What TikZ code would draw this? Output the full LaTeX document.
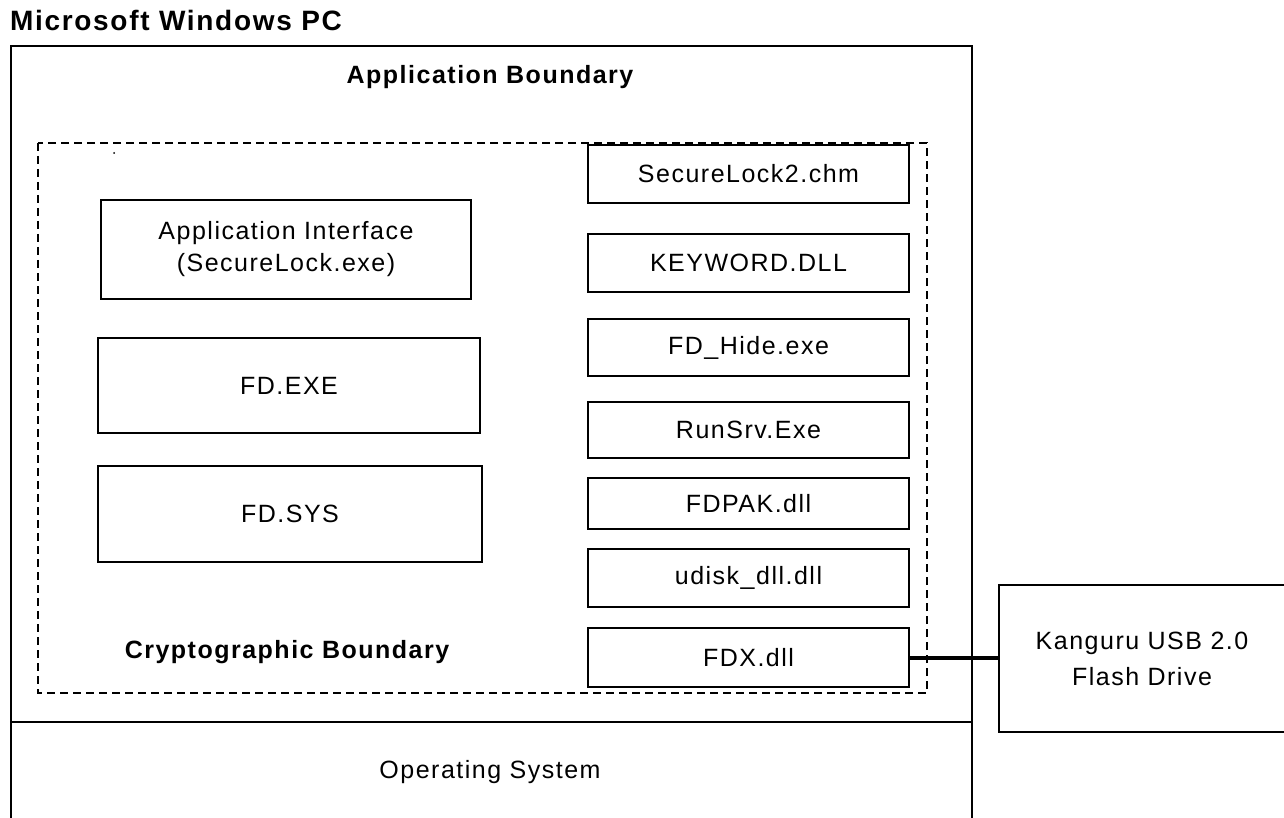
\documentclass[tikz,border=0pt]{standalone}
\usepackage{fontspec}
\setmainfont[LetterSpace=6]{Liberation Sans}
\usetikzlibrary{positioning}
\tikzset{
  modbox/.style={draw, line width=1.6pt, inner sep=0pt, align=center,
    font=\fontsize{25}{32}\selectfont},
  boldlbl/.style={inner sep=0pt, font=\fontsize{25}{30}\selectfont\bfseries},
  plainlbl/.style={inner sep=0pt, font=\fontsize{25}{30}\selectfont},
}
\begin{document}
\begin{tikzpicture}[x=1pt,y=-1pt]
  \useasboundingbox (0,0) rectangle (1284,818);

  % PC and its boundaries
  \node (title) [inner sep=0pt, anchor=west, font=\fontsize{28}{32}\selectfont\bfseries]
    at (10,20) {Microsoft Windows PC};
  \draw[line width=2pt] (11,840) -- (11,46) -- (972,46) -- (972,840);
  \draw[line width=2pt] (11,722) -- (972,722);
  \draw[line width=1.6pt, dash pattern=on 8pt off 5pt] (38,143) rectangle (927,693);
  \fill (114,153) circle (1pt);

  \node (appbnd) [boldlbl] at (490,77) {Application Boundary};
  \node (cryptbnd) [boldlbl] at (287,652) {Cryptographic Boundary};
  \node (os) [plainlbl] at (490,772) {Operating System};

  % left column
  \node (appif) [modbox, minimum width=370, minimum height=99] at (286,249.5)
    {Application Interface\\(SecureLock.exe)};
  \node (fdexe) [modbox, minimum width=382, minimum height=95] at (289,385.5) {FD.EXE};
  \node (fdsys) [modbox, minimum width=384, minimum height=96] at (290,514) {FD.SYS};

  % right column
  \node (chm)     [modbox, minimum width=321, minimum height=58] at (748.5,174)   {SecureLock2.chm};
  \node (keyword) [modbox, minimum width=321, minimum height=58] at (748.5,263)   {KEYWORD.DLL};
  \node (fdhide)  [modbox, minimum width=321, minimum height=57] at (748.5,347.5) {FD\_Hide.exe};
  \node (runsrv)  [modbox, minimum width=321, minimum height=56] at (748.5,430)   {RunSrv.Exe};
  \node (fdpak)   [modbox, minimum width=321, minimum height=51] at (748.5,503.5) {FDPAK.dll};
  \node (udisk)   [modbox, minimum width=321, minimum height=58] at (748.5,578)   {udisk\_dll.dll};
  \node (fdx)     [modbox, minimum width=321, minimum height=59] at (748.5,657.5) {FDX.dll};

  % flash drive
  \node (kanguru) [modbox, minimum width=286, minimum height=147,
    font=\fontsize{25}{36}\selectfont] at (1142,658.5) {Kanguru USB 2.0\\Flash Drive};

  \draw[line width=4pt] (fdx.east) -- (fdx.east -| kanguru.west);
\end{tikzpicture}
\end{document}
